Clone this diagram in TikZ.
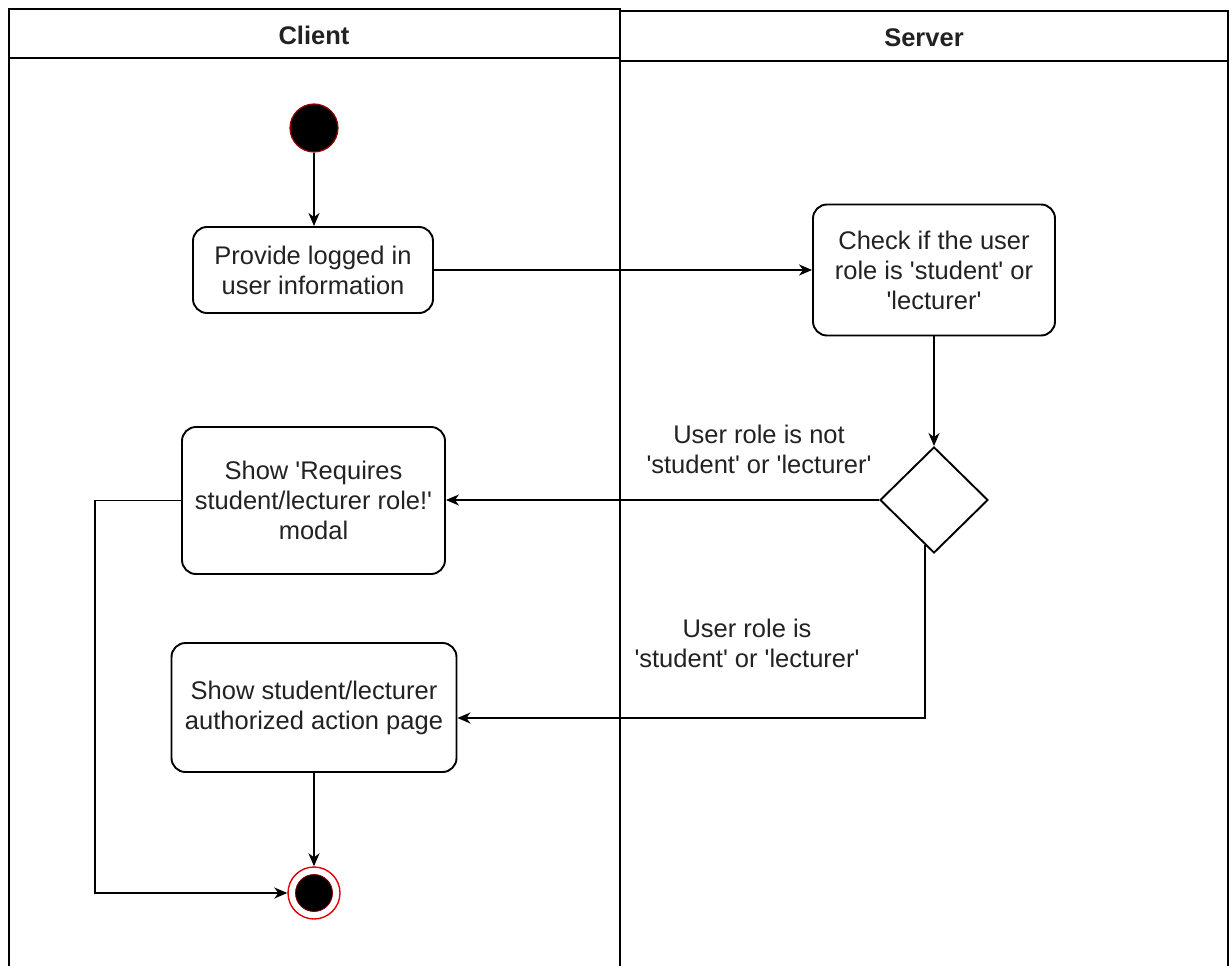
\documentclass[tikz,border=0pt]{standalone}
\usepackage{fontspec}
\setmainfont{Liberation Sans}
\usetikzlibrary{arrows.meta,shapes.geometric,calc}
\definecolor{txt}{HTML}{222222}
\definecolor{ring}{HTML}{E00000}
\newcommand{\sq}{\textquotesingle}
\tikzset{
  act/.style={draw=black, line width=1.9pt, rounded corners=14pt, fill=white, align=center,
    font=\fontsize{25.5}{30}\selectfont, text=txt, inner sep=0pt},
  lbl/.style={align=center, font=\fontsize{25.5}{30}\selectfont, text=txt, inner sep=0pt},
  hdr/.style={font=\fontsize{25.5}{30}\selectfont\bfseries, text=txt, inner sep=0pt},
  lane/.style={draw=black, line width=2pt},
  conn/.style={draw=black, line width=1.9pt},
  arr/.style={conn, -{Stealth[length=13pt,width=11pt,inset=4pt]}},
  startst/.style={circle, fill=black, draw=ring!70!black, line width=1.2pt, minimum size=48pt, inner sep=0pt},
  endst/.style={circle, draw=ring, line width=1.4pt, minimum size=52pt, inner sep=0pt},
  decision/.style={diamond, draw=black, line width=1.9pt, minimum width=108pt, minimum height=106pt, inner sep=0pt}
}
\begin{document}
\begin{tikzpicture}[x=1pt,y=-1pt]
\clip (0,0) rectangle (1232,966);
\fill[white] (0,0) rectangle (1232,966);
% lanes
\draw[lane] (9,9) rectangle (620,990);
\draw[lane] (9,58) -- (620,58);
\draw[lane] (620,11) rectangle (1228,990);
\draw[lane] (620,61) -- (1228,61);
\node[hdr] (hc) at (314,35) {Client};
\node[hdr] (hs) at (924,38) {Server};
% nodes
\node[startst] (start) at (314,128) {};
\node[act, minimum width=240pt, minimum height=86pt] (b1) at (313,270) {Provide logged in\\user information};
\node[act, minimum width=242pt, minimum height=131pt] (b2) at (934,270) {Check if the user\\role is \sq student\sq{} or\\\sq lecturer\sq};
\node[decision] (dia) at (934,500) {};
\node[act, minimum width=263pt, minimum height=147pt] (b3) at (313.5,500.5) {Show \sq Requires\\student/lecturer role!\sq\\modal};
\node[act, minimum width=285pt, minimum height=129pt] (b4) at (314,707.5) {Show student/lecturer\\authorized action page};
\node[endst] (end) at (314,893) {};
\node[circle, fill=black, draw=ring!60!black, line width=0.8pt, minimum size=37pt, inner sep=0pt] (endin) at (end.center) {};
% labels
\node[lbl] (l1) at (759,449) {User role is not\\\sq student\sq{} or \sq lecturer\sq};
\node[lbl] (l2) at (747,643.5) {User role is\\\sq student\sq{} or \sq lecturer\sq};
% connectors
\draw[arr] (start) -- (start |- b1.north);
\draw[arr] (b1.east) -- (b1.east -| b2.west);
\draw[arr] (b2.south) -- (dia.north);
\draw[arr] (dia.west) -- (dia.west -| b3.east);
\coordinate (dbot) at ($(dia.south)!0.16!(dia.west)$);
\coordinate (j) at (dbot |- 0,718);
\draw[arr] (dbot) -- (j) -- (j -| b4.east);
\draw[arr] (b3.west) -- ++(-86,0) |- (end.west);
\draw[arr] (b4.south) -- (end.north);
\end{tikzpicture}
\end{document}
